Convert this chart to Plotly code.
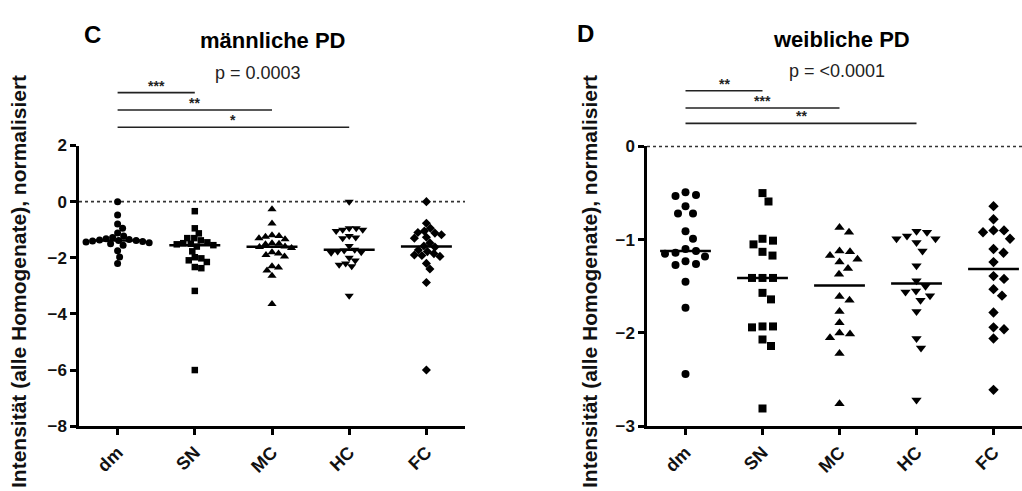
import numpy as np
import plotly.graph_objects as go

# ---- data -------------------------------------------------------------
categories = ["dm", "SN", "MC", "HC", "FC"]

# männliche PD (normalised intensity)
male_dm = [0.0, -0.48, -0.80, -0.95, -1.12, -1.22, -1.28, -1.32, -1.35, -1.37, -1.38,
           -1.38, -1.40, -1.42, -1.44, -1.46, -1.50, -1.55, -1.75, -1.97, -2.20]
male_sn = [-0.34, -0.95, -1.13, -1.30, -1.30, -1.38, -1.45, -1.48, -1.50, -1.52, -1.55,
           -1.60, -1.77, -1.98, -2.02, -2.09, -2.15, -2.33, -2.37, -3.18, -6.00]
male_mc = [-0.27, -0.78, -1.20, -1.22, -1.25, -1.30, -1.34, -1.48, -1.50, -1.52, -1.60,
           -1.62, -1.65, -1.80, -1.85, -1.90, -1.95, -2.30, -2.35, -2.45, -2.64, -3.65]
male_hc = [0.0, -0.95, -0.95, -1.00, -1.00, -1.05, -1.22, -1.28, -1.30, -1.58, -1.71,
           -1.74, -1.78, -1.80, -1.82, -2.00, -2.10, -2.20, -2.25, -2.30, -3.35]
male_fc = [0.0, -0.77, -0.95, -1.05, -1.10, -1.12, -1.18, -1.27, -1.30, -1.47, -1.58,
           -1.62, -1.72, -1.78, -1.85, -1.90, -1.92, -1.95, -2.20, -2.40, -2.88, -6.00]

# weibliche PD (normalised intensity)
female_dm = [-0.49, -0.52, -0.53, -0.64, -0.72, -0.72, -0.91, -0.99, -1.10, -1.12,
             -1.14, -1.15, -1.18, -1.23, -1.26, -1.27, -1.45, -1.73, -2.44]
female_sn = [-0.50, -0.59, -0.99, -1.01, -1.05, -1.13, -1.17, -1.41, -1.41, -1.41,
             -1.57, -1.64, -1.93, -1.93, -1.94, -2.07, -2.14, -2.81]
female_mc = [-0.87, -0.92, -1.12, -1.13, -1.17, -1.21, -1.24, -1.31, -1.37, -1.61,
             -1.65, -1.77, -1.89, -2.00, -2.01, -2.05, -2.22, -2.76]
female_hc = [-0.91, -0.92, -0.96, -0.99, -0.99, -1.03, -1.12, -1.28, -1.44, -1.50,
             -1.55, -1.56, -1.60, -1.65, -1.77, -2.06, -2.16, -2.72]
female_fc = [-0.64, -0.78, -0.90, -0.90, -0.92, -0.99, -1.10, -1.14, -1.24, -1.39,
             -1.42, -1.53, -1.60, -1.78, -1.94, -1.96, -2.06, -2.61]

male_groups = [male_dm, male_sn, male_mc, male_hc, male_fc]
female_groups = [female_dm, female_sn, female_mc, female_hc, female_fc]

male_comparisons = [("dm", "SN", "***"), ("dm", "MC", "**"), ("dm", "HC", "*")]
female_comparisons = [("dm", "SN", "**"), ("dm", "MC", "***"), ("dm", "HC", "**")]

male_p = "p = 0.0003"
female_p = "p = <0.0001"

# ---- styling ----------------------------------------------------------
FONT = "Liberation Sans, Arial, sans-serif"
symbols = ["circle", "square", "triangle-up", "triangle-down", "diamond"]
W, H = 1022, 491


def swarm_offsets(values, px_per_x, px_per_y, gap):
    """Greedy beeswarm: horizontal offsets (in x units) so markers don't overlap."""
    vals = np.asarray(values, float)
    order = np.argsort(-vals, kind="stable")
    steps = sorted(np.arange(-80, 80.5, 0.5), key=lambda s: (abs(s), -s))
    placed = []
    out = np.zeros(len(vals))
    for i in order:
        py = vals[i] * px_per_y
        chosen = 0.0
        for s in steps:
            if all((s - qx) ** 2 + (py - qy) ** 2 >= gap ** 2 for qx, qy in placed):
                chosen = s
                break
        placed.append((chosen, py))
        out[i] = chosen / px_per_x
    return out


fig = go.Figure()

panels = [
    dict(groups=male_groups, xa="x", ya="y", pxx=77, pxy=29.2, gap=6.6,
         sizes=[7, 6.5, 8, 8, 7]),
    dict(groups=female_groups, xa="x2", ya="y2", pxx=77, pxy=97, gap=10.5,
         sizes=[8, 8, 9, 9, 8]),
]

for p in panels:
    for i, vals in enumerate(p["groups"]):
        offs = swarm_offsets(vals, p["pxx"], p["pxy"], p["gap"])
        fig.add_trace(go.Scatter(
            x=i + offs, y=vals, mode="markers", xaxis=p["xa"], yaxis=p["ya"],
            marker=dict(symbol=symbols[i], size=p["sizes"][i], color="black",
                        line=dict(width=0)),
            showlegend=False, hoverinfo="y", cliponaxis=False))
        med = float(np.median(vals))
        fig.add_trace(go.Scatter(
            x=[i - 0.33, i + 0.33], y=[med, med], mode="lines",
            xaxis=p["xa"], yaxis=p["ya"], line=dict(color="black", width=2.5),
            showlegend=False, hoverinfo="skip"))

axis_common = dict(showline=True, linecolor="black", linewidth=2.5, ticks="outside",
                   ticklen=6, tickwidth=2.5, tickcolor="black", showgrid=False,
                   zeroline=False, mirror=False,
                   tickfont=dict(family=FONT, size=17, color="#111", weight="bold"))

x_left = [79 / W, 465 / W]
x_right = [647 / W, 1.0]
y_left = [(H - 434) / H, (H - 142) / H]
y_right = [(H - 434) / H, (H - 143) / H]

fig.update_layout(
    width=W, height=H, autosize=False,
    margin=dict(l=0, r=0, t=0, b=0),
    paper_bgcolor="white", plot_bgcolor="white",
    xaxis=dict(axis_common, domain=x_left, range=[-0.5, 4.5], tickvals=list(range(5)),
               ticktext=categories, tickangle=-45, anchor="y",
               tickfont=dict(family=FONT, size=18, color="#111", weight="bold")),
    yaxis=dict(axis_common, domain=y_left, range=[-8, 2], tickvals=[2, 0, -2, -4, -6, -8],
               anchor="x"),
    xaxis2=dict(axis_common, domain=x_right, range=[-0.5, 4.37], tickvals=list(range(5)),
                ticktext=categories, tickangle=-45, anchor="y2",
                tickfont=dict(family=FONT, size=18, color="#111", weight="bold")),
    yaxis2=dict(axis_common, domain=y_right, range=[-3, 0],
                tickvals=[0, -1, -2, -3], anchor="x2"),
)

# dotted reference line at zero
fig.add_shape(type="line", xref="x", yref="y", x0=-0.5, x1=4.5, y0=0, y1=0,
              line=dict(color="#333", width=1.6, dash="dot"), layer="below")
# right panel: zero sits on the top edge of the plot area, so draw it unclipped
fig.add_shape(type="line", xref="paper", yref="paper", x0=x_right[0], x1=x_right[1],
              y0=y_right[1], y1=y_right[1],
              line=dict(color="#333", width=1.6, dash="dot"), layer="above")

# significance brackets
def add_brackets(comps, xa, levels_px):
    for (a, b, stars), ypx in zip(comps, levels_px):
        xa0, xb0 = categories.index(a), categories.index(b)
        yp = (H - ypx) / H
        fig.add_shape(type="line", xref=xa, yref="paper", x0=xa0, x1=xb0, y0=yp, y1=yp,
                      line=dict(color="#222", width=1.6))
        fig.add_annotation(x=(xa0 + xb0) / 2, y=yp, xref=xa, yref="paper", text=stars,
                           showarrow=False, yanchor="bottom", yshift=-3,
                           font=dict(family=FONT, size=14, color="#222", weight="bold"))

add_brackets(male_comparisons, "x", [87, 105, 123])
add_brackets(female_comparisons, "x2", [85, 103, 119])

# panel letters, titles, p-values
def text(x, y, s, size, bold=True, angle=0, color="black"):
    fig.add_annotation(x=x / W, y=(H - y) / H, xref="paper", yref="paper", text=s,
                       showarrow=False, xanchor="center", yanchor="middle", textangle=angle,
                       font=dict(family=FONT, size=size, color=color,
                                 weight="bold" if bold else "normal"))

text(92, 27, "C", 24)
text(272, 33, "männliche PD", 22)
text(258, 67, male_p, 18, bold=False, color="#222")
text(585, 26, "D", 24)
text(841, 32, "weibliche PD", 22)
text(837, 65, female_p, 18, bold=False, color="#222")

ytitle = "Intensität (alle Homogenate), normalisiert"
text(18, 284, ytitle, 21, angle=-90, color="#111")
text(589, 284, ytitle, 21, angle=-90, color="#111")

fig.write_html("out.html")
